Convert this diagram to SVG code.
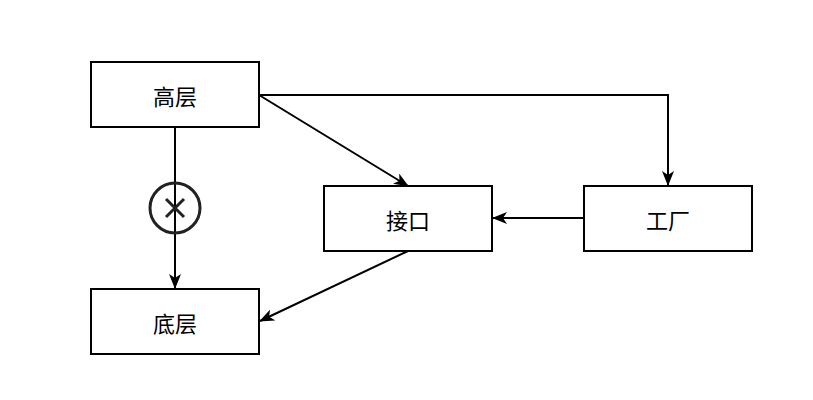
<svg xmlns="http://www.w3.org/2000/svg" width="813" height="400" viewBox="0 0 813 400">
<style>
.box{fill:#fff;stroke:#000;stroke-width:2}
.lbl{font-family:"Noto Sans CJK SC","Liberation Sans",sans-serif;font-size:22px;fill:#000;text-anchor:middle;dominant-baseline:central}
.edge{fill:none;stroke:#000;stroke-width:2}
</style>
<defs>
<marker id="arr" viewBox="0 0 15 12" refX="14" refY="6" markerWidth="15" markerHeight="12" markerUnits="userSpaceOnUse" orient="auto">
<path d="M0,0 L15,6 L0,12 L4,6 Z" fill="#000"/>
</marker>
</defs>
<rect width="813" height="400" fill="#fff"/>
<g id="connectors">
<path class="edge" d="M175,127 L175,288" marker-end="url(#arr)"/>
<path class="edge" d="M259,95 L408,186" marker-end="url(#arr)"/>
<path class="edge" d="M259,95 L668,95 L668,185" marker-end="url(#arr)"/>
<path class="edge" d="M584,218 L493,218" marker-end="url(#arr)"/>
<path class="edge" d="M408,251 L260,321" marker-end="url(#arr)"/>
<g id="xmark">
<circle cx="175" cy="208" r="25" fill="none" stroke="#222" stroke-width="3"/>
<path d="M166,199 L184,217 M184,199 L166,217" stroke="#222" stroke-width="3" fill="none"/>
</g>
</g>
<g id="gaoceng">
<rect class="box" x="91" y="62" width="168" height="65"/>
<text class="lbl" x="175" y="95">高层</text>
</g>
<g id="diceng">
<rect class="box" x="91" y="289" width="168" height="65"/>
<text class="lbl" x="175" y="322">底层</text>
</g>
<g id="jiekou">
<rect class="box" x="324" y="186" width="168" height="65"/>
<text class="lbl" x="408" y="219">接口</text>
</g>
<g id="gongchang">
<rect class="box" x="584" y="186" width="168" height="65"/>
<text class="lbl" x="668" y="219">工厂</text>
</g>
</svg>
